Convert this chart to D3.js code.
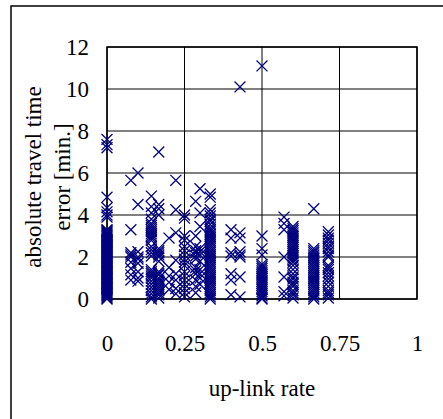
<!DOCTYPE html>
<html>
<head>
<meta charset="utf-8">
<script src="https://cdn.jsdelivr.net/npm/d3@7"></script>
<style>
  body { margin: 0; background: #fff; }
  svg text { font-family: 'Liberation Serif', 'Times New Roman', serif !important; fill: #000; }
</style>
</head>
<body>
<div id="graf"></div>
<script>
// -- Data: up-link rate columns and the errors [min.] seen at each rate
rates = [0, 0.077, 0.1, 0.143, 0.167, 0.2, 0.222, 0.25, 0.286, 0.3, 0.333, 0.4, 0.429, 0.5, 0.571, 0.6, 0.667, 0.714]
errors = [
  [7.6, 7.35, 7.2, 4.85, 4.35, 4.15, 4.0, 3.9, 3.3, 3.25, 3.2, 3.15, 3.1, 3.05, 3.0, 2.95, 2.9, 2.85, 2.8, 2.75, 2.7, 2.65, 2.6, 2.55, 2.5, 2.45, 2.4, 2.35, 2.3, 2.25, 2.2, 2.15, 2.1, 2.05, 2.0, 1.95, 1.9, 1.85, 1.8, 1.75, 1.7, 1.65, 1.6, 1.55, 1.5, 1.45, 1.4, 1.35, 1.3, 1.25, 1.2, 1.15, 1.1, 1.05, 1.0, 0.95, 0.9, 0.85, 0.8, 0.75, 0.7, 0.65, 0.6, 0.55, 0.5, 0.45, 0.4, 0.35, 0.3, 0.25, 0.2, 0.15, 0.1, 0.05, 0.0],
  [5.65, 3.3, 2.2, 2.1, 2.0, 1.75, 1.45, 1.15, 0.9],
  [6.0, 4.5, 2.25, 2.0, 1.9, 1.7, 1.3, 1.0, 0.85],
  [4.9, 4.4, 4.1, 3.8, 3.6, 3.5, 3.4, 3.3, 3.2, 3.1, 3.0, 2.9, 2.8, 2.5, 2.35, 2.2, 2.05, 1.4, 1.3, 1.2, 1.1, 1.0, 0.85, 0.7, 0.55, 0.4, 0.25, 0.1, 0.0],
  [7.0, 4.5, 4.3, 4.0, 2.4, 2.3, 2.2, 2.1, 2.0, 1.8, 1.3, 1.2, 1.15, 1.0, 0.9, 0.8, 0.7, 0.6, 0.5, 0.4, 0.3, 0.2, 0.05],
  [2.9, 1.5, 1.1, 0.8, 0.45],
  [5.65, 4.25, 3.15, 1.85, 1.2, 0.9, 0.5, 0.25],
  [4.0, 3.85, 3.0, 2.8, 2.5, 2.3, 2.1, 1.9, 1.75, 1.6, 1.3, 1.1, 0.9, 0.7, 0.5, 0.3, 0.1],
  [4.65, 3.0, 2.5, 2.3, 2.2, 2.05, 1.9, 1.5, 1.35, 1.2, 0.9, 0.6, 0.3],
  [5.25, 4.1, 3.45, 2.4, 2.25, 2.1, 1.8, 1.4, 1.2, 1.0, 0.7],
  [5.0, 4.85, 4.25, 4.1, 3.95, 3.8, 3.7, 3.55, 3.4, 3.3, 3.2, 3.1, 3.0, 2.9, 2.8, 2.7, 2.6, 2.5, 2.4, 2.3, 2.2, 2.1, 2.0, 1.9, 1.8, 1.7, 1.6, 1.5, 1.4, 1.3, 1.2, 1.1, 1.0, 0.9, 0.8, 0.7, 0.6, 0.5, 0.4, 0.3, 0.2, 0.1, 0.0],
  [3.3, 2.9, 2.2, 2.05, 1.2, 0.9, 0.2],
  [10.1, 3.15, 2.9, 2.25, 2.1, 2.0, 1.05, 0.1],
  [11.1, 3.0, 2.4, 2.1, 1.65, 1.55, 1.45, 1.35, 1.25, 1.15, 1.05, 0.95, 0.85, 0.75, 0.65, 0.55, 0.45, 0.35, 0.25, 0.15, 0.05, 0.0],
  [3.9, 3.6, 3.3, 2.0, 1.05, 0.35, 0.15],
  [3.45, 3.35, 3.25, 3.15, 3.05, 2.95, 2.85, 2.75, 2.65, 2.55, 2.45, 2.35, 2.25, 2.15, 2.05, 1.95, 1.85, 1.75, 1.6, 1.4, 1.2, 1.05, 0.95, 0.8, 0.7, 0.6, 0.4, 0.3, 0.2, 0.05],
  [4.3, 2.4, 2.3, 2.2, 2.1, 2.0, 1.9, 1.8, 1.7, 1.6, 1.5, 1.4, 1.3, 1.2, 1.1, 1.0, 0.9, 0.8, 0.7, 0.6, 0.5, 0.4, 0.3, 0.2, 0.1, 0.0],
  [3.2, 3.05, 2.9, 2.8, 2.65, 2.5, 2.4, 2.25, 2.1, 2.0, 1.6, 1.5, 1.4, 1.25, 1.1, 0.95, 0.8, 0.6, 0.4, 0.3, 0.2, 0.05]
]
xTicks = [0, 0.25, 0.5, 0.75, 1]
yTicks = [0, 2, 4, 6, 8, 10, 12]
xTitle = 'up-link rate'
yTitle = ['absolute travel time', 'error [min.]']

// -- Canvas
ancho_total = 443
alto_total = 419
margins = {top: 47, left: 107, right: 26, bottom: 120}
ancho = ancho_total - margins.left - margins.right
alto = alto_total - margins.top - margins.bottom
fuente = "'Liberation Serif', 'Times New Roman', serif"

svg = d3.select('#graf').append('svg')
        .attr('width', ancho_total)
        .attr('height', alto_total)

// -- outer frame (runs off the right/bottom edge)
svg.append('rect')
    .attr('x', 11)
    .attr('y', 6)
    .attr('width', 460)
    .attr('height', 440)
    .attr('fill', 'none')
    .attr('stroke', '#000')
    .attr('stroke-width', 1.5)

g = svg.append('g')
       .attr('transform', `translate(${margins.left}, ${margins.top})`)

// -- Scales
x = d3.scaleLinear().domain([0, 1]).range([0, ancho])
y = d3.scaleLinear().domain([0, 12]).range([alto, 0])

// -- Grid
g.append('g')
    .selectAll('line')
    .data(yTicks)
    .join('line')
    .attr('x1', 0).attr('x2', ancho)
    .attr('y1', d => y(d)).attr('y2', d => y(d))
    .attr('stroke', '#000')
g.append('g')
    .selectAll('line')
    .data(xTicks)
    .join('line')
    .attr('y1', 0).attr('y2', alto)
    .attr('x1', d => x(d)).attr('x2', d => x(d))
    .attr('stroke', '#000')

g.append('rect')
    .attr('width', ancho)
    .attr('height', alto)
    .attr('fill', 'none')
    .attr('stroke', '#000')
    .attr('stroke-width', 1.5)

// -- Axes (labels only, the grid draws the lines)
yAxis = d3.axisLeft(y).tickValues(yTicks).tickSize(0).tickPadding(18)
xAxis = d3.axisBottom(x).tickValues(xTicks).tickSize(0).tickPadding(36)
      .tickFormat(d => d3.format('')(d))

ya = g.append('g').call(yAxis)
xa = g.append('g').attr('transform', `translate(0, ${alto})`).call(xAxis)
for (a of [ya, xa]) {
    a.attr('font-family', fuente).attr('font-size', 23)
    a.select('.domain').remove()
    a.selectAll('text')
        .style('font-family', fuente)
        .style('font-size', '23px')
        .attr('fill', '#000')
}

// -- Points
points = rates.flatMap((r, i) => errors[i].map(e => ({rate: r, err: e})))
marker = d3.symbol(d3.symbolX, 80)
g.append('g')
    .selectAll('path')
    .data(points)
    .join('path')
    .attr('d', marker)
    .attr('transform', d => `translate(${x(d.rate)}, ${y(d.err)})`)
    .attr('fill', 'none')
    .attr('stroke', '#000080')
    .attr('stroke-width', 1.3)

// -- Titles
svg.append('text')
    .attr('x', margins.left + ancho / 2)
    .attr('y', 396)
    .attr('text-anchor', 'middle')
    .style('font-size', '23px')
    .text(xTitle)

yTitle.forEach((t, i) => {
    svg.append('text')
        .attr('transform', `translate(${41 + i * 29}, 177) rotate(-90)`)
        .attr('text-anchor', 'middle')
        .style('font-size', '23px')
        .text(t)
})
</script>
</body>
</html>
